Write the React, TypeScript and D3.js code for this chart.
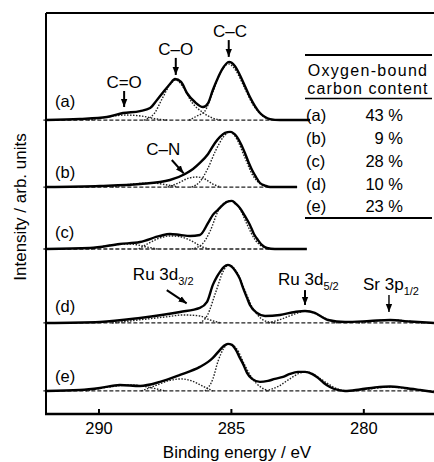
import React from 'react';
import * as d3 from 'd3';

type Pt = [number, number];

// binding energy (eV) vs intensity above each baseline (arb. units)
const specA: Pt[] = [[292.0,0],[290.72,0.5],[289.7,1.5],[289.09,3.5],[288.45,4.5],[288.07,6],[287.81,10],[287.51,15],[287.32,18],[287.13,20.5],[286.9,19],[286.68,13.5],[286.38,9],[286.07,6.5],[285.88,8.5],[285.7,15],[285.51,21],[285.36,25],[285.09,29],[284.87,27],[284.68,22.5],[284.49,17],[284.3,11.5],[284.11,7],[283.92,3.5],[283.73,1.5],[283.54,0.5],[283.17,0],[282.03,0]];
const specB: Pt[] = [[292.0,0],[289.96,0.5],[288.45,1.5],[287.32,3.5],[286.75,6.5],[286.45,9],[286.19,12],[285.88,16.5],[285.62,22],[285.43,25],[285.24,27],[285.05,27.5],[284.79,25],[284.64,21.5],[284.49,17],[284.34,12],[284.22,8.5],[284.07,5],[283.92,2],[283.73,0.75],[283.54,0],[282.52,0]];
const specC: Pt[] = [[292.0,0],[290.34,0.5],[289.21,2.5],[288.45,3.5],[287.7,6.5],[287.32,7.5],[286.94,7],[286.56,6.5],[286.19,7],[285.88,13],[285.7,17],[285.51,19.5],[285.32,22],[285.17,23.5],[284.98,24],[284.83,22.5],[284.68,20.5],[284.49,16.5],[284.3,12],[284.15,7.5],[284.0,4.5],[283.85,2],[283.66,0.5],[283.36,0],[282.15,0]];
const specD: Pt[] = [[292.0,0],[289.96,0.5],[288.45,2.5],[286.94,5.5],[286.19,7.5],[285.92,10.5],[285.7,19],[285.55,23],[285.43,25.5],[285.28,28],[285.13,29],[284.98,28],[284.83,25.5],[284.68,22],[284.56,17.5],[284.41,12.5],[284.3,9],[284.03,5],[283.73,3.5],[283.17,4],[282.6,5.5],[282.22,6],[281.85,5],[281.58,3],[281.35,1.5],[280.71,0.5],[279.77,1],[279.01,1.5],[278.26,0.75],[277.35,0]];
const specE: Pt[] = [[292.0,0],[290.72,0.5],[289.96,1.5],[289.21,3],[288.45,2.5],[287.7,4.5],[286.94,8],[286.19,12],[285.88,14.5],[285.7,16.5],[285.43,20.5],[285.28,22.5],[285.13,23.5],[284.98,23],[284.83,20.5],[284.68,16.5],[284.56,13.5],[284.41,9],[284.22,6],[283.92,4.5],[283.62,5],[283.36,6],[283.05,7],[282.79,8.5],[282.49,9.5],[282.22,9.5],[281.96,8.5],[281.73,6.5],[281.51,4],[281.28,2],[280.98,0.5],[280.71,0],[280.15,0.75],[279.58,1.75],[279.01,2.25],[278.45,1.5],[277.88,0.5],[277.35,-0.5]];

// fitted components
const compA: Pt[][] = [
  [[290.4,0],[289.7,1.5],[289.0,2.5],[288.4,2],[287.8,0.5],[287.4,0]],
  [[288.3,0],[287.9,3.5],[287.6,11],[287.3,18],[287.1,20],[286.8,16],[286.5,9],[286.1,4],[285.8,1.5],[285.4,0]],
  [[286.6,0],[286.3,2],[286.0,4.5],[285.7,14],[285.4,24],[285.1,28],[284.8,24],[284.5,16],[284.2,8],[283.9,3],[283.6,0.5],[283.3,0]],
];
const compB: Pt[][] = [
  [[289.5,0],[288.7,1.5],[288.0,2],[287.4,1],[287.0,0]],
  [[287.4,0],[287.0,2],[286.6,4.5],[286.3,5],[286.0,4],[285.7,1.5],[285.4,0]],
  [[286.5,0],[286.2,2.5],[285.9,9],[285.6,18],[285.3,25],[285.05,27.5],[284.8,24],[284.5,15],[284.2,6],[283.9,1.5],[283.6,0]],
];
const compC: Pt[][] = [
  [[290.3,0],[289.5,2],[288.8,2.5],[288.2,1],[287.8,0]],
  [[288.5,0],[288.1,3],[287.7,5.5],[287.3,6.5],[286.9,6],[286.5,4],[286.1,1],[285.8,0]],
  [[286.5,0],[286.1,2.5],[285.8,9],[285.5,19],[285.2,23.5],[285.0,24],[284.7,20.5],[284.4,12],[284.1,4.5],[283.8,1],[283.5,0]],
];
const compD: Pt[][] = [
  [[289.5,0],[288.5,1.5],[287.5,3],[286.8,4],[286.2,3.5],[285.8,1.5],[285.4,0]],
  [[286.2,0],[285.9,4],[285.6,15],[285.3,26],[285.1,29],[284.8,25.5],[284.5,16.5],[284.2,7.5],[283.9,2.5],[283.6,0.5],[283.2,0]],
  [[283.6,0],[283.1,2],[282.6,4.5],[282.2,6],[281.8,4.5],[281.4,2],[281.0,0]],
  [[280.2,0],[279.6,1],[279.0,1.5],[278.4,1],[277.8,0]],
];
const compE: Pt[][] = [
  [[290.5,0],[289.6,2],[288.8,3],[288.0,1.5],[287.5,0]],
  [[288.4,0],[287.9,2.5],[287.4,5],[286.9,6],[286.5,5],[286.1,2.5],[285.7,0]],
  [[286.0,0],[285.7,6],[285.5,15],[285.3,21],[285.1,23.5],[284.8,21],[284.5,13],[284.2,6],[283.9,2],[283.6,0]],
  [[283.7,0],[283.2,2.5],[282.8,6],[282.4,9],[282.15,9.5],[281.8,7.5],[281.4,4],[281.0,1],[280.6,0]],
  [[280.4,0],[279.8,1],[279.0,2],[278.3,1],[277.6,0]],
];

const spectra = [specA, specB, specC, specD, specE];
const components = [compA, compB, compC, compD, compE];
const offsets = [146.6, 113.2, 82.3, 45.4, 11.5];
const spectrumLabels = ['(a)', '(b)', '(c)', '(d)', '(e)'];
const labelLevels = [153.1, 117.7, 87.8, 50.9, 16.0];

const xTicks = [290, 285, 280];

const tableLabels = ['(a)', '(b)', '(c)', '(d)', '(e)'];
const tableValues = ['43 %', '9 %', '28 %', '10 %', '23 %'];

const font = '"Liberation Sans", Arial, Helvetica, sans-serif';

export default function App() {
  const width = 434;
  const height = 462;
  const x = d3.scaleLinear().domain([292, 277.35]).range([46, 434]);
  const y = d3.scaleLinear().domain([0, 200]).range([414, 13]);

  const pathFor = (pts: Pt[], off: number) =>
    d3.line<Pt>()
      .x(d => x(d[0]))
      .y(d => y(d[1] + off))
      .curve(d3.curveMonotoneX)(pts) || '';

  // arrows: [be1, u1, be2, u2]
  const arrows = [
    [289.05, 161.1, 289.05, 153.1],
    [287.1, 177.6, 287.1, 169.1],
    [285.1, 186.5, 285.1, 178.1],
    [287.25, 126.7, 286.8, 120.0],
    [287.44, 61.8, 286.69, 55.2],
    [282.22, 61.8, 282.22, 54.4],
    [279.05, 59.4, 279.05, 50.9],
  ];

  const rowBase = [121, 143.5, 166.5, 189.5, 212];

  return (
    <svg width={width} height={height} style={{ position: 'absolute', left: 0, top: 0, background: '#fff' }}
      fontFamily={font}>
      <defs>
        <marker id="ah" viewBox="0 0 8 8" refX="8" refY="4" markerWidth="8" markerHeight="8"
          markerUnits="userSpaceOnUse" orient="auto">
          <path d="M0,0.8 L8,4 L0,7.2 z" fill="#000" />
        </marker>
      </defs>

      {/* baselines */}
      {spectra.map((s, i) => (
        <line key={'b' + i} x1={x(292.1)} x2={x(s[s.length - 1][0])} y1={y(offsets[i])} y2={y(offsets[i])}
          stroke="#222" strokeWidth={1.3} strokeDasharray="4,2" />
      ))}

      {/* components */}
      {components.map((cs, i) => cs.map((c, j) => (
        <path key={'c' + i + '-' + j} d={pathFor(c, offsets[i])} fill="none" stroke="#222"
          strokeWidth={1.4} strokeDasharray="1.5,1.5" />
      )))}

      {/* spectra */}
      {spectra.map((s, i) => (
        <path key={'s' + i} d={pathFor(s, offsets[i])} fill="none" stroke="#000" strokeWidth={2.4}
          strokeLinejoin="round" />
      ))}

      {/* frame */}
      <line x1={46} x2={436} y1={13} y2={13} stroke="#000" strokeWidth={2.2} />
      <line x1={46} x2={46} y1={13} y2={414} stroke="#000" strokeWidth={2} />
      <line x1={45} x2={436} y1={414} y2={414} stroke="#000" strokeWidth={2.6} />
      {xTicks.map(t => (
        <g key={t}>
          <line x1={x(t)} x2={x(t)} y1={414} y2={409} stroke="#000" strokeWidth={2} />
          <text x={x(t)} y={433.5} fontSize={16.5} textAnchor="middle">{t}</text>
        </g>
      ))}
      <text x={237} y={458} fontSize={17} textAnchor="middle">Binding energy / eV</text>
      <text transform="translate(26,207) rotate(-90)" fontSize={17} textAnchor="middle">Intensity / arb. units</text>

      {/* spectrum labels */}
      {spectrumLabels.map((l, i) => (
        <text key={l} x={x(291.66)} y={y(labelLevels[i])} fontSize={16.5}>{l}</text>
      ))}

      {/* peak annotations */}
      <text x={x(289.05)} y={y(162.6)} fontSize={17} textAnchor="middle">C=O</text>
      <text x={x(287.1)} y={y(179.1)} fontSize={17} textAnchor="middle">C–O</text>
      <text x={x(285.05)} y={y(188.0)} fontSize={17} textAnchor="middle">C–C</text>
      <text x={x(287.57)} y={y(129.2)} fontSize={17} textAnchor="middle">C–N</text>
      <text x={x(288.72)} y={y(66.8)} fontSize={17}>Ru 3d<tspan fontSize={11} dy={5}>3/2</tspan></text>
      <text x={x(283.24)} y={y(64.3)} fontSize={17}>Ru 3d<tspan fontSize={11} dy={5}>5/2</tspan></text>
      <text x={x(280.03)} y={y(61.8)} fontSize={17}>Sr 3p<tspan fontSize={11} dy={5}>1/2</tspan></text>
      {arrows.map((a, i) => (
        <line key={'a' + i} x1={x(a[0])} y1={y(a[1])} x2={x(a[2])} y2={y(a[3])} stroke="#000"
          strokeWidth={i === 6 ? 1.4 : 2} markerEnd="url(#ah)" />
      ))}

      {/* table */}
      <line x1={305} x2={432} y1={55} y2={55} stroke="#000" strokeWidth={2.2} />
      <text x={368} y={75.5} fontSize={16} letterSpacing={1.3} textAnchor="middle">Oxygen-bound</text>
      <text x={368} y={94} fontSize={16} letterSpacing={1.1} textAnchor="middle">carbon content</text>
      <line x1={305} x2={432} y1={98.5} y2={98.5} stroke="#000" strokeWidth={1.6} />
      {tableLabels.map((l, i) => (
        <g key={'t' + i}>
          <text x={306} y={rowBase[i]} fontSize={16.5}>{l}</text>
          <text x={403} y={rowBase[i]} fontSize={16.5} textAnchor="end">{tableValues[i]}</text>
        </g>
      ))}
      <line x1={305} x2={432} y1={218} y2={218} stroke="#000" strokeWidth={2.2} />
    </svg>
  );
}
